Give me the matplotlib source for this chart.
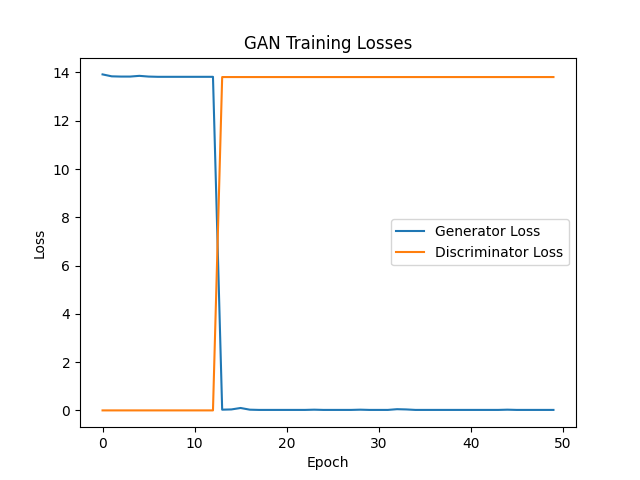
#!/usr/bin/env python3

import numpy as np
import matplotlib
matplotlib.use("Agg")
import matplotlib.pyplot as plt

epochs = np.arange(50)

gen_loss = [13.92, 13.84, 13.83, 13.83, 13.86, 13.83, 13.82, 13.82, 13.82, 13.82,
            13.82, 13.82, 13.82, 0.03, 0.04, 0.10, 0.03, 0.02, 0.02, 0.02,
            0.02, 0.02, 0.02, 0.03, 0.02, 0.02, 0.02, 0.02, 0.03, 0.02,
            0.02, 0.02, 0.05, 0.04, 0.02, 0.02, 0.02, 0.02, 0.02, 0.02,
            0.02, 0.02, 0.02, 0.02, 0.03, 0.02, 0.02, 0.02, 0.02, 0.02]

disc_loss = [0.0] * 13 + [13.81] * 37


def main():
    fig, ax = plt.subplots(figsize=(6.4, 4.8), dpi=100)
    ax.plot(epochs, gen_loss, label="Generator Loss")
    ax.plot(epochs, disc_loss, label="Discriminator Loss")
    ax.set_xlabel("Epoch")
    ax.set_ylabel("Loss")
    ax.set_title("GAN Training Losses")
    ax.legend()
    fig.savefig("out.png")


if __name__ == '__main__':
    main()
